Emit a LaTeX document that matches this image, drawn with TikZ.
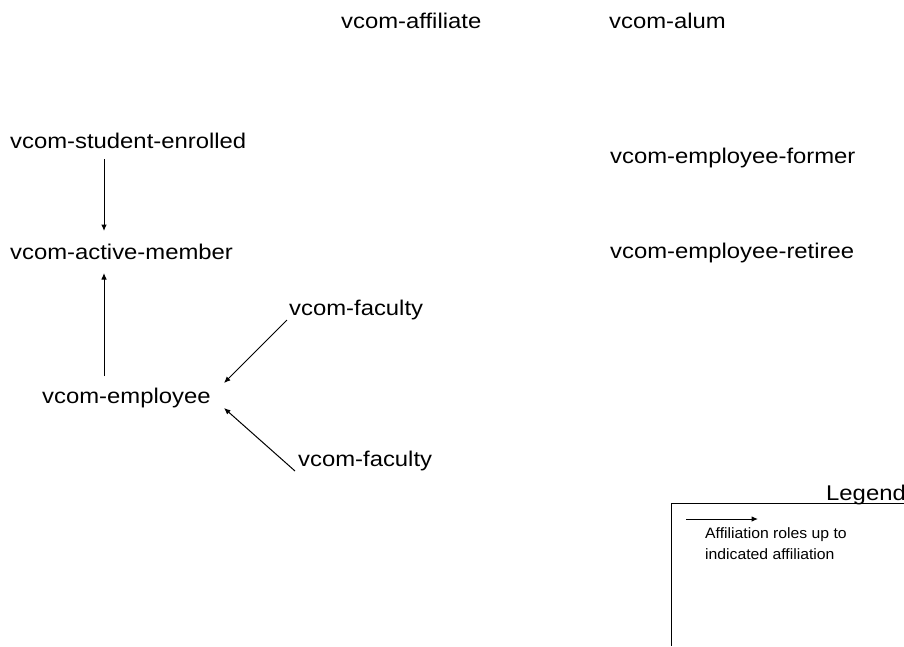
\documentclass[tikz,border=0pt]{standalone}
\usepackage{fontspec}
\setmainfont{Liberation Sans}[FakeStretch=1.12]
\newfontfamily\legfont{Liberation Sans}[FakeStretch=1.05]
\usetikzlibrary{arrows.meta,calc}
\begin{document}
\begin{tikzpicture}[x=1pt,y=-1pt,
  lbl/.style={anchor=base west,inner sep=0pt,font=\fontsize{21.3}{25}\selectfont},
  leg/.style={anchor=base west,inner sep=0pt,align=left,font=\legfont\fontsize{15}{21}\selectfont},
  arr/.style={line width=1pt,-{Latex[length=6.5pt,width=5.5pt]}},
  frame/.style={line width=1pt}]
\useasboundingbox (0,0) rectangle (904,646);
\clip (0,0) rectangle (904,646);
\node[lbl] (aff)  at (341,28)  {vcom-affiliate};
\node[lbl] (alum) at (609,28)  {vcom-alum};
\node[lbl] (se)   at (10,148)  {vcom-student-enrolled};
\node[lbl] (ef)   at (610,163) {vcom-employee-former};
\node[lbl] (am)   at (10,259)  {vcom-active-member};
\node[lbl] (er)   at (610,258) {vcom-employee-retiree};
\node[lbl] (fac1) at (289,315) {vcom-faculty};
\node[lbl] (emp)  at (42,403)  {vcom-employee};
\node[lbl] (fac2) at (298,466) {vcom-faculty};
\node[lbl] (legend) at (826,500) {Legend};
\node[leg] (legtext) at (705,559) {Affiliation roles up to\\indicated affiliation};
\coordinate (fr1) at (904,503);
\coordinate (fr2) at (671,503);
\coordinate (fr3) at (671,646);
\draw[frame] (fr1) -- (fr2) -- (fr3);
\coordinate (la1) at (686,519);
\coordinate (la2) at (758,519);
\draw[arr] (la1) -- (la2);
\draw[arr] ($(se.base west)+(94,11)$) -- ($(am.base west)+(94,-28)$);
\draw[arr] ($(emp.base west)+(62,-27)$) -- ($(am.base west)+(94,14)$);
\draw[arr] ($(fac1.base west)+(-2,5)$) -- ($(emp.base west)+(182,-20)$);
\draw[arr] ($(fac2.base west)+(-3,5)$) -- ($(emp.base west)+(182,5)$);
\end{tikzpicture}
\end{document}
